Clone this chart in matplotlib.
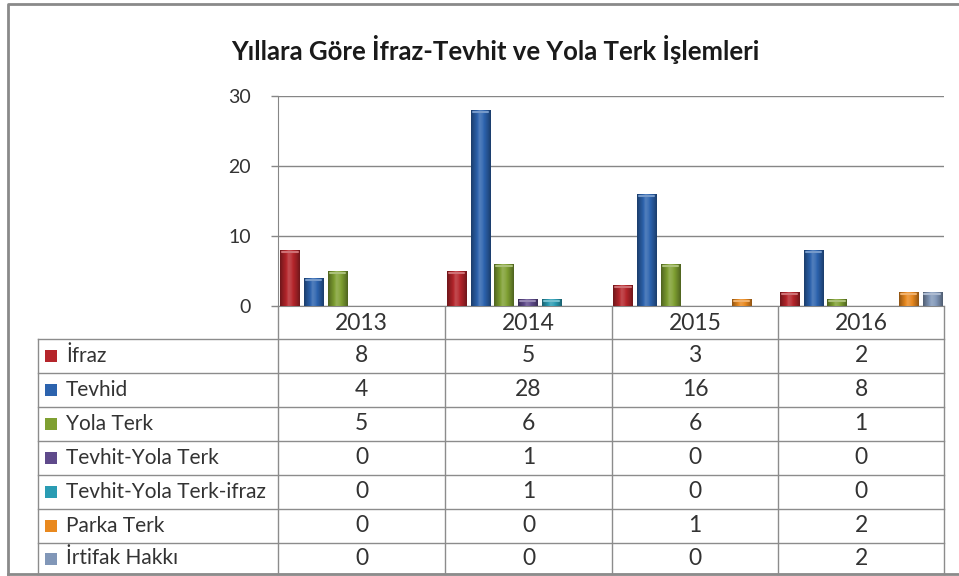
import numpy as np
import matplotlib
matplotlib.use('Agg')
import matplotlib.pyplot as plt
from matplotlib.colors import to_rgb

plt.rcParams['font.family'] = ['Lato', 'DejaVu Sans']

years = ['2013', '2014', '2015', '2016']
series = ['İfraz', 'Tevhid', 'Yola Terk', 'Tevhit-Yola Terk',
          'Tevhit-Yola Terk-ifraz', 'Parka Terk', 'İrtifak Hakkı']
ifraz = [8, 5, 3, 2]
tevhid = [4, 28, 16, 8]
yola_terk = [5, 6, 6, 1]
tevhit_yola = [0, 1, 0, 0]
tevhit_yola_ifraz = [0, 1, 0, 0]
parka_terk = [0, 0, 1, 2]
irtifak = [0, 0, 0, 2]
values = [ifraz, tevhid, yola_terk, tevhit_yola, tevhit_yola_ifraz, parka_terk, irtifak]
colors = ['#B5252B', '#2C63AE', '#7FA032', '#5F4A8B', '#2A9CB3', '#E9891F', '#8197B8']

title = 'Yıllara Göre İfraz-Tevhit ve Yola Terk İşlemleri'
txt = '#333333'
linec = '#8c8c8c'

W, H = 959, 576
fig = plt.figure(figsize=(W / 100, H / 100), dpi=100)
fig.patch.set_facecolor('white')

# pixel positions of the plot area
x0, x1 = 278, 944
ytop, ybot = 96, 306
ax = fig.add_axes([x0 / W, 1 - ybot / H, (x1 - x0) / W, (ybot - ytop) / H])

n = len(series)
slot = 1.0 / n
bw = slot * 0.8
x = np.arange(len(years))


def shade(c, f):
    r = np.array(to_rgb(c))
    if f >= 1:
        return r + (1 - r) * (f - 1)
    return r * f


prof = np.array([0.62, 0.8, 0.95, 1.18, 1.1, 0.95, 0.8, 0.62])
for i, vals in enumerate(values):
    xs = x - 0.5 + slot * (i + 0.5)
    bars = ax.bar(xs, vals, width=bw, color=colors[i], zorder=3, linewidth=0)
    for b, v in zip(bars, vals):
        if v <= 0:
            continue
        grad = np.array([shade(colors[i], f) for f in np.interp(np.linspace(0, 7, 40), np.arange(8), prof)])
        img = ax.imshow(grad[np.newaxis, :, :], extent=[b.get_x(), b.get_x() + bw, 0, v],
                        aspect='auto', zorder=4, interpolation='bilinear')
        img.set_clip_path(b)
        # light rim on top of the bar
        ax.plot([b.get_x() + bw * 0.1, b.get_x() + bw * 0.9], [v - 0.25, v - 0.25],
                color=shade(colors[i], 1.35), lw=1.5, zorder=5, solid_capstyle='round')

ax.set_xlim(-0.5, len(years) - 0.5)
ax.set_ylim(0, 30)
ax.set_yticks([0, 10, 20, 30])
ax.set_xticks([])
ax.grid(axis='y', color='#868686', lw=1, zorder=0)
ax.tick_params(axis='y', length=5, width=1, color='#868686', pad=14.5, labelsize=14, labelcolor=txt)
for s in ['top', 'right']:
    ax.spines[s].set_visible(False)
ax.spines['left'].set_color('#868686')
ax.spines['bottom'].set_color('#868686')

# overlay in pixel coordinates for title, table and frame
ov = fig.add_axes([0, 0, 1, 1], zorder=-1)
ov.set_xlim(0, W)
ov.set_ylim(H, 0)
ov.axis('off')

ov.text(495, 49, title, ha='center', va='center', fontsize=18.5, fontweight='bold', color='#1a1a1a')

# frame
ov.plot([8, 8, W + 5], [574, 4, 4], color='#8a8a8a', lw=2)
ov.plot([8, W + 5], [574, 574], color='#8a8a8a', lw=2)

col_edges = [278, 445, 612, 778, 944]
row_edges = [339, 373, 407, 441, 475, 509, 543, 574]
tl = 38
for cx in col_edges:
    ov.plot([cx, cx], [306, row_edges[-1]], color=linec, lw=1)
ov.plot([tl, tl], [row_edges[0], row_edges[-1]], color=linec, lw=1)
for ry in row_edges:
    ov.plot([tl, col_edges[-1]], [ry, ry], color=linec, lw=1)

for j, yr in enumerate(years):
    cx = (col_edges[j] + col_edges[j + 1]) / 2
    ov.text(cx, 323, yr, ha='center', va='center', fontsize=16.5, color=txt)

for i, name in enumerate(series):
    cy = (row_edges[i] + row_edges[i + 1]) / 2
    ov.add_patch(plt.Rectangle((45, cy - 6), 12, 12, facecolor=colors[i], edgecolor='none'))
    ov.text(66, cy, name, ha='left', va='center', fontsize=15, color=txt)
    for j in range(len(years)):
        cx = (col_edges[j] + col_edges[j + 1]) / 2
        ov.text(cx, cy, str(values[i][j]), ha='center', va='center', fontsize=16.5, color=txt)

fig.savefig('out.png', dpi=100, facecolor='white')
